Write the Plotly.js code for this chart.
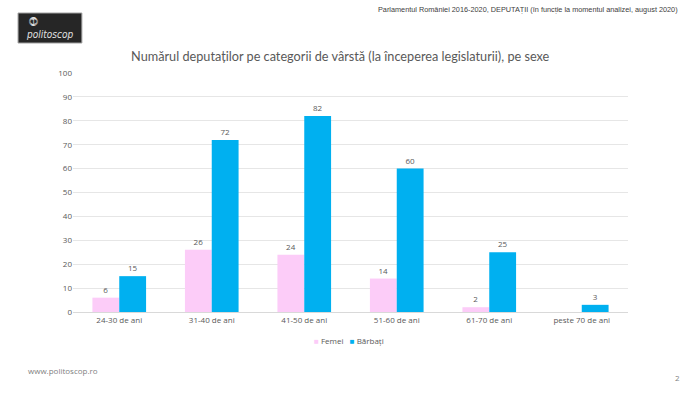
<!DOCTYPE html>
<html>
<head>
<meta charset="utf-8">
<script src="https://cdn.plot.ly/plotly-3.0.1.min.js"></script>
<style>
html,body{margin:0;padding:0;background:#fff;}
#chart{width:700px;height:394px;}
</style>
</head>
<body>
<div id="chart"></div>
<script>
const categories = ["24-30 de ani","31-40 de ani","41-50 de ani","51-60 de ani","61-70 de ani","peste 70 de ani"];
const femei = [6, 26, 24, 14, 2, 0];
const barbati = [15, 72, 82, 60, 25, 3];
const yTicks = [0,10,20,30,40,50,60,70,80,90,100];
const seriesNames = ["Femei", "Bărbați"];
const seriesColors = ["#FCCCF8", "#00B0F0"];

const labelFont = {family: "Open Sans, Lato, sans-serif", size: 8, color: "#595959"};

const traces = [
  {
    type: "bar", name: seriesNames[0], x: categories, y: femei,
    marker: {color: seriesColors[0]},
    text: femei.map(v => v === 0 ? "" : String(v)),
    textposition: "outside", textfont: labelFont, cliponaxis: false,
    hoverinfo: "x+y"
  },
  {
    type: "bar", name: seriesNames[1], x: categories, y: barbati,
    marker: {color: seriesColors[1]},
    text: barbati.map(v => String(v)),
    textposition: "outside", textfont: labelFont, cliponaxis: false,
    hoverinfo: "x+y"
  }
];

const legendText = seriesNames.map((n, i) =>
  `<span style="color:${seriesColors[i]}">■</span> ${n}`).join("   ");

const layout = {
  width: 700, height: 394,
  margin: {l: 73, r: 72, t: 73, b: 82},
  paper_bgcolor: "#ffffff", plot_bgcolor: "#ffffff",
  barmode: "group", bargap: 0.42, bargroupgap: 0,
  showlegend: false,
  title: {text: "Numărul deputaților pe categorii de vârstă (la începerea legislaturii), pe sexe",
          font: {family: "Lato, Open Sans, sans-serif", size: 12.7, color: "#595959"},
          x: 0.486, xanchor: "center", y: 0.857, yanchor: "middle"},
  xaxis: {type: "category", showgrid: false, zeroline: false, showline: true,
          linecolor: "#d9d9d9", linewidth: 1, ticks: "",
          tickfont: {family: "Open Sans, Lato, sans-serif", size: 8, color: "#595959"},
          fixedrange: true},
  yaxis: {range: [0, 100], tickvals: yTicks, ticktext: yTicks.map(String),
          showgrid: true, gridcolor: "#e6e6e6", gridwidth: 1, zeroline: false,
          showline: false, ticks: "",
          tickfont: {family: "Open Sans, Lato, sans-serif", size: 8, color: "#595959"},
          fixedrange: true},
  shapes: [
    {type: "rect", xref: "paper", yref: "paper", x0: -0.099, x1: 0.016, y0: 1.1255, y1: 1.251,
     fillcolor: "#262626", line: {color: "#a0a0a0", width: 1}, layer: "above"}
  ],
  annotations: [
    {xref: "paper", yref: "paper", x: -0.042, y: 1.160, text: "<i>politoscop</i>", showarrow: false,
     font: {family: "DejaVu Sans Condensed, DejaVu Sans, sans-serif", size: 10, color: "#e0e0e0"}, xanchor: "center", yanchor: "middle"},
    {xref: "paper", yref: "paper", x: -0.071, y: 1.215, text: "⓵", showarrow: false,
     font: {family: "DejaVu Sans, sans-serif", size: 9, color: "#e0e0e0"}, xanchor: "center", yanchor: "middle"},
    {xref: "paper", yref: "paper", x: 1.094, y: 1.266, xanchor: "right", yanchor: "middle", showarrow: false,
     text: "Parlamentul României 2016-2020, DEPUTAȚII (în funcție la momentul analizei, august 2020)",
     font: {family: "Liberation Sans, Arial, sans-serif", size: 7.3, color: "#404040"}},
    {xref: "paper", yref: "paper", x: 0.497, y: -0.118, xanchor: "center", yanchor: "middle", showarrow: false,
     text: legendText,
     font: {family: "Open Sans, Lato, sans-serif", size: 8, color: "#595959"}},
    {xref: "paper", yref: "paper", x: -0.085, y: -0.243, xanchor: "left", yanchor: "middle", showarrow: false,
     text: "www.politoscop.ro",
     font: {family: "Open Sans, Lato, sans-serif", size: 8, color: "#7f7f7f"}},
    {xref: "paper", yref: "paper", x: 1.090, y: -0.272, xanchor: "center", yanchor: "middle", showarrow: false,
     text: "2",
     font: {family: "Open Sans, Lato, sans-serif", size: 8, color: "#7f7f7f"}}
  ]
};

Plotly.newPlot("chart", traces, layout, {displayModeBar: false, staticPlot: true});
</script>
</body>
</html>
